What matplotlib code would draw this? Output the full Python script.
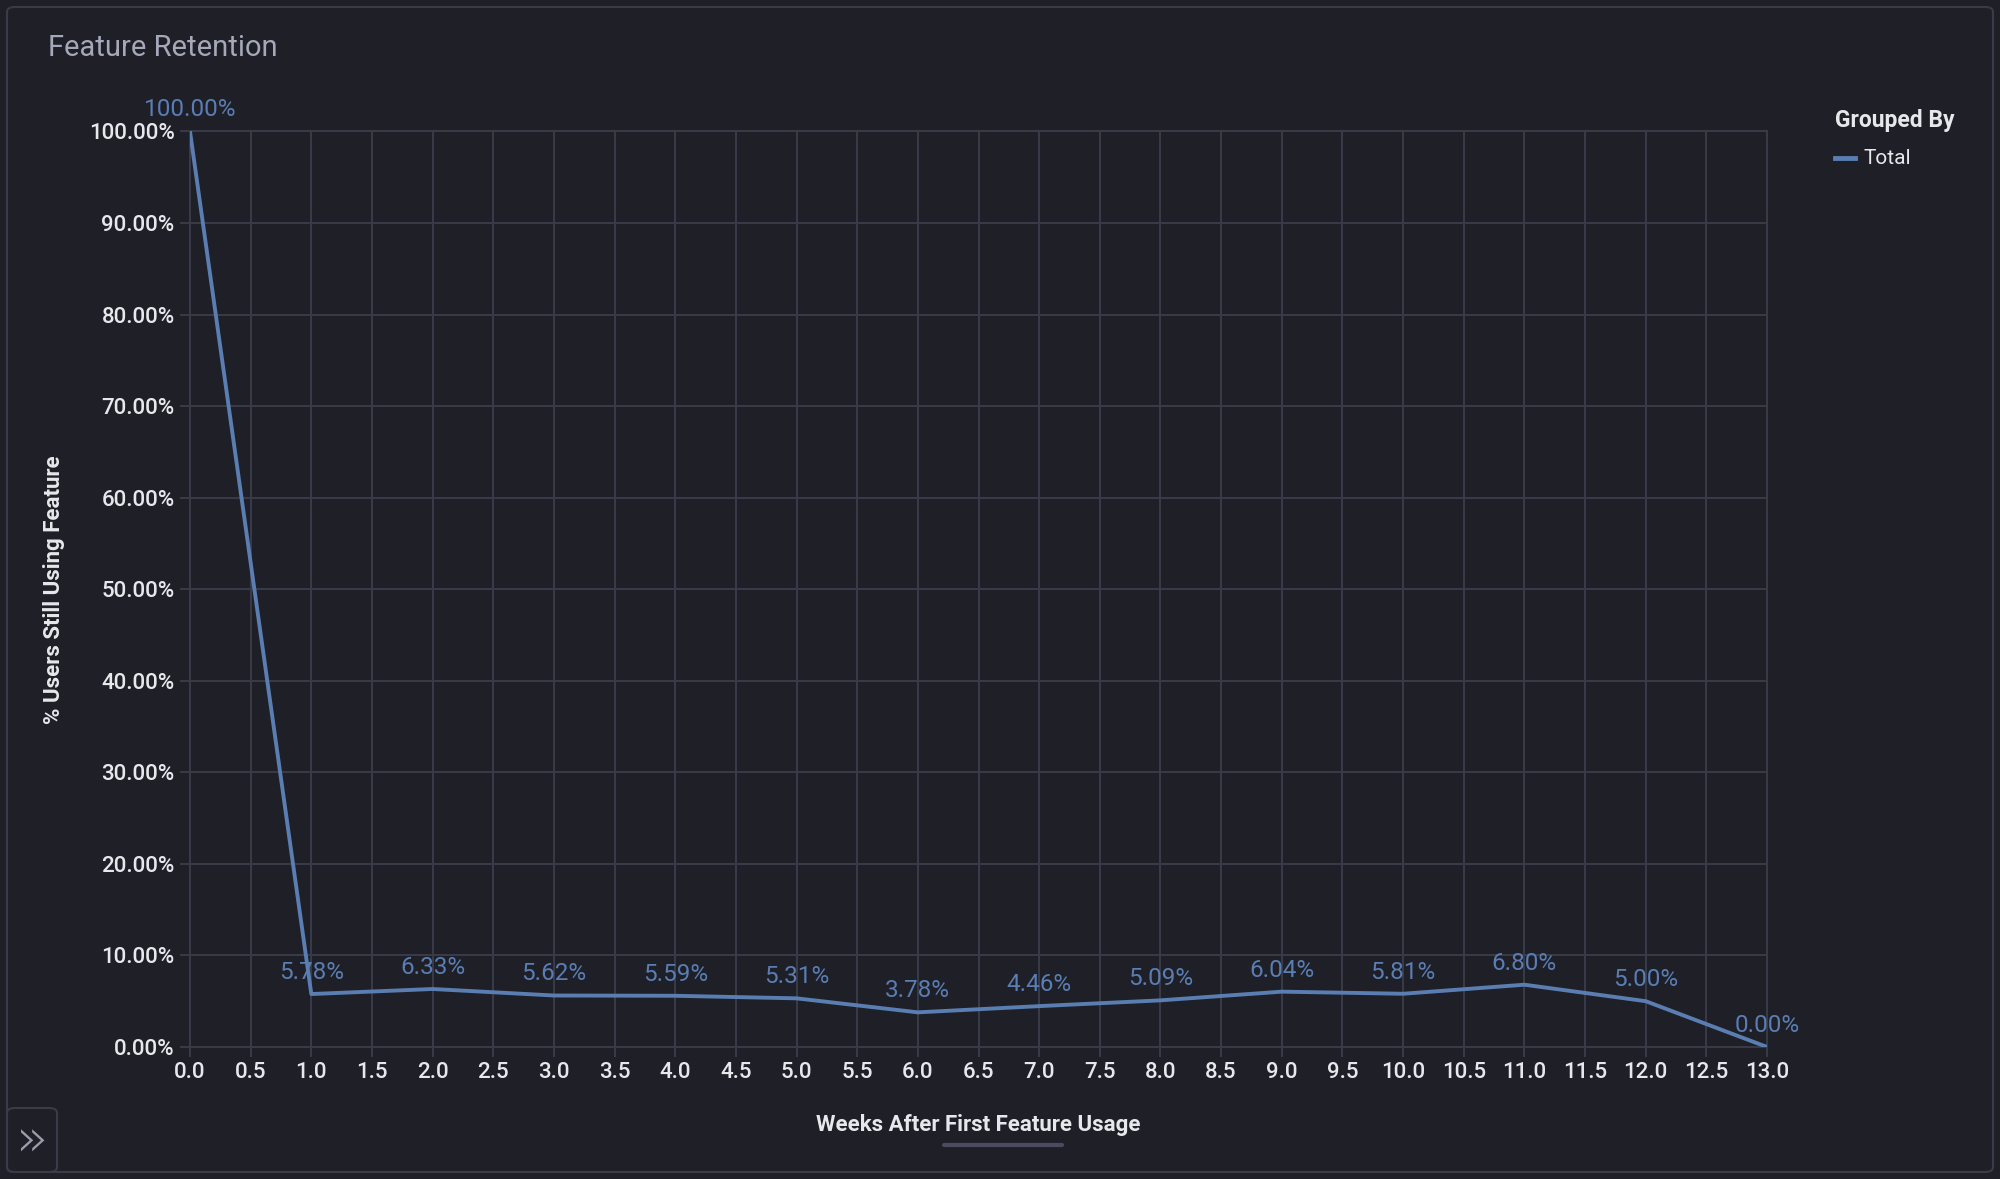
import matplotlib
matplotlib.use("Agg")
import matplotlib.pyplot as plt
from matplotlib.patches import FancyBboxPatch
from matplotlib.lines import Line2D

# data
weeks = [0, 1, 2, 3, 4, 5, 6, 7, 8, 9, 10, 11, 12, 13]
retention = [100.00, 5.78, 6.33, 5.62, 5.59, 5.31, 3.78, 4.46, 5.09, 6.04, 5.81, 6.80, 5.00, 0.00]
x_ticks = [i * 0.5 for i in range(27)]
y_ticks = [i * 10 for i in range(11)]

bg = "#1e1f27"
grid_c = "#3a3b49"
line_c = "#5a7db2"
tick_c = "#e8e8ec"
title_c = "#a4a8b8"

plt.rcParams['font.family'] = ['Roboto', 'DejaVu Sans']

fig = plt.figure(figsize=(20, 11.79), dpi=100, facecolor=bg)
ax = fig.add_axes([0.095, 0.112, 0.7885, 0.7765])
ax.set_facecolor(bg)

ax.plot(weeks, retention, color=line_c, lw=2.8, zorder=3)
for w, v in zip(weeks, retention):
    ax.annotate(f"{v:.2f}%", (w, v), xytext=(0, 15.5), textcoords='offset points',
                ha='center', va='center', color=line_c, fontsize=17.5, zorder=4)

ax.set_xlim(0, 13)
ax.set_ylim(0, 100)
ax.set_xticks(x_ticks)
ax.set_xticklabels([f"{t:.1f}" for t in x_ticks])
ax.set_yticks(y_ticks)
ax.set_yticklabels([f"{t:.2f}%" for t in y_ticks])
ax.grid(True, color=grid_c, lw=1.4)
ax.set_axisbelow(True)
for s in ax.spines.values():
    s.set_color(grid_c)
    s.set_linewidth(1.4)
ax.tick_params(colors=grid_c, length=7, width=1.4, labelsize=16, labelcolor=tick_c, pad=4)
for lab in ax.get_xticklabels() + ax.get_yticklabels():
    lab.set_fontweight('medium')

ax.set_xlabel("Weeks After First Feature Usage", color=tick_c, fontsize=16, fontweight='bold', labelpad=22.5)
ax.set_ylabel("% Users Still Using Feature", color=tick_c, fontsize=16, fontweight='bold', labelpad=17.5)

# title
fig.text(0.024, 1 - 48.5 / 1179, "Feature Retention", color=title_c, fontsize=21, va='center', ha='left')

# legend
fig.text(1835 / 2000, 1 - 120 / 1179, "Grouped By", color=tick_c, fontsize=16.5, fontweight='bold', va='center')
fig.add_artist(Line2D([1835 / 2000, 1855 / 2000], [1 - 158 / 1179] * 2, color=line_c, lw=3.5))
fig.text(1863 / 2000, 1 - 159 / 1179, "Total", color=tick_c, fontsize=15, va='center')

# underline under x label
fig.add_artist(Line2D([944 / 2000, 1062 / 2000], [1 - 1145 / 1179] * 2, color="#4a4b5e", lw=3,
                      solid_capstyle='round'))

# panel border
border = FancyBboxPatch((7 / 2000, 7 / 1179), 1 - 14 / 2000, 1 - 14 / 1179,
                        boxstyle="round,pad=0,rounding_size=0.004", transform=fig.transFigure,
                        fill=False, ec=grid_c, lw=1.5)
fig.add_artist(border)
btn = FancyBboxPatch((7 / 2000, 7 / 1179), 50 / 2000, 64 / 1179,
                     boxstyle="round,pad=0,rounding_size=0.004", transform=fig.transFigure,
                     fill=False, ec=grid_c, lw=1.5)
fig.add_artist(btn)
fig.text(32 / 2000, 1 - 1142 / 1179, "»", color="#9a9cab", fontsize=38, fontweight='light',
         ha='center', va='center', family=['DejaVu Sans'])

fig.savefig("out.png", dpi=100, facecolor=bg)
